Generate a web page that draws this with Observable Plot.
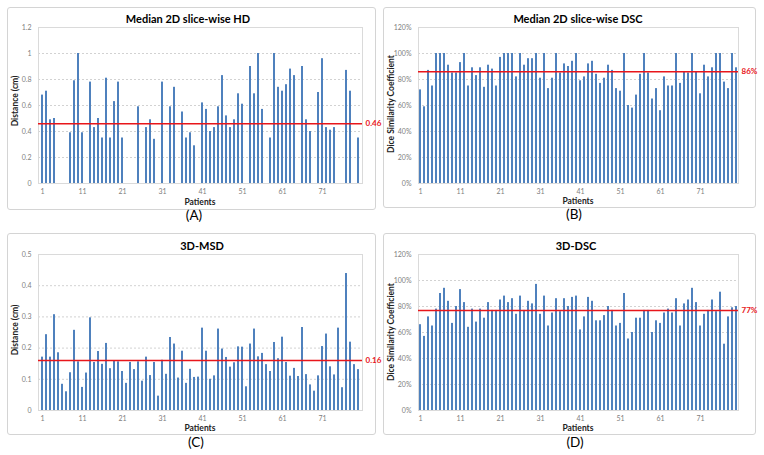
<!DOCTYPE html>
<html>
<head>
<meta charset="utf-8">
<script src="https://cdn.jsdelivr.net/npm/d3@7"></script>
<script src="https://cdn.jsdelivr.net/npm/@observablehq/plot@0.6"></script>
<style>
  html, body { margin: 0; padding: 0; background: #fff; }
  #root { position: relative; width: 764px; height: 455px; overflow: hidden; font-family: Lato, "Open Sans", sans-serif; }
  .box { position: absolute; border: 1px solid #d4d4d4; border-radius: 3px; box-sizing: border-box; background: #fff; }
  .plotwrap { position: absolute; }
  .t { position: absolute; white-space: nowrap; transform: translate(-50%, -50%); color: #000; line-height: 1; }
  .title { font-weight: bold; font-size: 11px; }
  .ylab { font-weight: bold; font-size: 8.5px; transform: translate(-50%, -50%) rotate(-90deg); color: #222; }
  .xlab { font-weight: bold; font-size: 8.5px; color: #222; }
  .tag { font-size: 13.5px; color: #000; }
</style>
</head>
<body>
<div id="root"></div>
<script>
const patients = [1,2,3,4,5,6,7,8,9,10,11,12,13,14,15,16,17,18,19,20,21,22,23,24,25,26,27,28,29,30,31,32,33,34,35,36,37,38,39,40,41,42,43,44,45,46,47,48,49,50,51,52,53,54,55,56,57,58,59,60,61,62,63,64,65,66,67,68,69,70,71,72,73,74,75,76,77,78,79,80];
const xTicks = [1, 11, 21, 31, 41, 51, 61, 71];

// (A) Median 2D slice-wise HD (cm); null = no bar
const hd2d = [0.68,0.71,0.49,0.50,null,null,null,0.39,0.79,1.00,
  0.39,null,0.78,0.43,0.50,0.35,0.81,0.35,0.63,0.78,
  0.35,null,null,null,0.59,null,0.43,0.49,0.34,null,
  0.78,null,0.59,0.74,null,0.55,0.35,0.39,0.29,null,
  0.62,0.57,0.40,0.43,0.59,0.83,0.52,0.43,0.49,0.69,
  0.61,null,0.90,0.69,1.00,0.57,null,0.35,1.00,0.74,
  0.71,0.76,0.88,0.83,null,0.90,0.49,0.40,null,0.70,
  0.96,0.43,0.41,0.43,null,null,0.87,0.71,null,0.35];
// (B) Median 2D slice-wise DSC (%)
const dsc2d = [72,59,87,75,100,100,100,91,85,85,
  93,100,75,89,83,89,74,91,88,75,
  97,100,100,100,82,100,91,96,96,100,
  81,100,73,81,100,85,92,90,94,100,
  79,82,92,94,84,77,81,91,87,73,
  71,100,60,58,68,84,100,85,65,73,
  56,82,75,75,100,77,86,85,100,86,
  69,91,82,89,100,100,78,73,100,89];
// (C) 3D-MSD (cm)
const msd3d = [0.171,0.243,0.171,0.307,0.185,0.084,0.060,0.121,0.257,0.156,
  0.074,0.120,0.297,0.154,0.189,0.148,0.215,0.134,0.158,0.156,
  0.125,0.087,0.154,0.131,0.156,0.094,0.171,0.112,0.154,0.046,
  0.161,0.116,0.234,0.213,0.104,0.190,0.087,0.132,0.106,0.107,
  0.264,0.190,0.100,0.111,0.261,0.197,0.170,0.139,0.153,0.204,
  0.203,0.076,0.213,0.261,0.172,0.183,0.147,0.125,0.218,0.166,
  0.235,0.154,0.110,0.135,0.109,0.266,0.115,0.082,0.062,0.111,
  0.205,0.245,0.140,0.114,0.264,0.073,0.439,0.219,0.147,0.131];
// (D) 3D-DSC (%)
const dsc3d = [66,57,72,65,78,90,94,84,67,80,
  93,83,64,78,68,78,71,83,77,77,
  85,88,83,86,74,88,77,84,82,97,
  74,88,65,75,86,76,86,80,87,88,
  62,72,87,84,69,69,73,80,77,65,
  67,90,55,60,71,71,77,77,60,69,
  67,75,78,75,86,65,82,85,94,83,
  65,74,77,85,76,91,51,72,79,80];

const titles = ["Median 2D slice-wise HD", "Median 2D slice-wise DSC", "3D-MSD", "3D-DSC"];
const yLabels = ["Distance (cm)", "Dice Similarity Coefficient", "Distance (cm)", "Dice Similarity Coefficient"];
const xLabel = "Patients";
const tags = ["(A)", "(B)", "(C)", "(D)"];
const means = [0.46, 86, 0.16, 77];
const meanLabels = ["0.46", "86%", "0.16", "77%"];
const yTicksHD = [0, 0.2, 0.4, 0.6, 0.8, 1, 1.2];
const yTicksPct = [0, 20, 40, 60, 80, 100, 120];
const yTicksMSD = [0, 0.1, 0.2, 0.3, 0.4, 0.5];

const root = document.getElementById("root");
const BLUE = "#4f81bd";
const RED = "#e8161b";

function addDiv(cls, text, x, y) {
  const d = document.createElement("div");
  d.className = "t " + cls;
  d.textContent = text;
  d.style.left = x + "px";
  d.style.top = y + "px";
  root.appendChild(d);
  return d;
}
function addBox(l, t, r, b) {
  const d = document.createElement("div");
  d.className = "box";
  d.style.left = l + "px"; d.style.top = t + "px";
  d.style.width = (r - l) + "px"; d.style.height = (b - t) + "px";
  root.appendChild(d);
}

function panel(values, yMax, yTicks, yFmt, mean, meanLabel, left, top, width, mt, mb, ml, mr) {
  const data = patients.map((p, i) => ({patient: p, value: values[i]})).filter(d => d.value != null);
  const svg = Plot.plot({
    width, height: 215,
    marginTop: mt, marginBottom: mb, marginLeft: ml, marginRight: mr,
    style: {background: "transparent", overflow: "visible", fontFamily: "Lato, 'Open Sans', sans-serif"},
    x: {type: "band", domain: patients, paddingInner: 0.52, paddingOuter: 0.26},
    y: {domain: [0, yMax]},
    marks: [
      Plot.gridY(yTicks, {stroke: "#d2d2d2", strokeOpacity: 1, strokeDasharray: "2,2"}),
      Plot.frame({stroke: "#dadada"}),
      Plot.barY(data, {x: "patient", y: "value", fill: BLUE}),
      Plot.ruleY([mean], {stroke: RED, strokeWidth: 1.5}),
      Plot.text([mean], {y: d => d, frameAnchor: "right", textAnchor: "start", dx: 3, text: () => meanLabel, fill: RED, fontWeight: "bold", fontSize: 8}),
      Plot.axisY(yTicks, {tickSize: 0, tickPadding: 7, tickFormat: yFmt, fontSize: 7, fill: "#808080", label: null}),
      Plot.axisX(xTicks, {tickSize: 0, tickPadding: 6, fontSize: 7, fill: "#808080", label: null})
    ]
  });
  const w = document.createElement("div");
  w.className = "plotwrap";
  w.style.left = left + "px";
  w.style.top = top + "px";
  w.appendChild(svg);
  root.appendChild(w);
}

// chart-area boxes
addBox(7, 7, 376, 210);
addBox(383, 7, 756, 208);
addBox(7, 233, 376, 435);
addBox(383, 233, 756, 435);

const numFmt = d3.format("~g");
const pctFmt = d => d + "%";

panel(hd2d, 1.2, yTicksHD, numFmt, means[0], meanLabels[0], 0, 0, 380, 27, 32, 38, 18);
panel(dsc2d, 120, yTicksPct, pctFmt, means[1], meanLabels[1], 380, 0, 384, 27, 32, 38, 26);
panel(msd3d, 0.5, yTicksMSD, numFmt, means[2], meanLabels[2], 0, 225, 380, 29, 30, 38, 18);
panel(dsc3d, 120, yTicksPct, pctFmt, means[3], meanLabels[3], 380, 225, 384, 29, 30, 38, 26);

// titles
addDiv("title", titles[0], 188, 18);
addDiv("title", titles[1], 578, 18);
addDiv("title", titles[2], 202, 245);
addDiv("title", titles[3], 576, 245);
// y labels
addDiv("ylab", yLabels[0], 15, 101);
addDiv("ylab", yLabels[1], 391, 104);
addDiv("ylab", yLabels[2], 15, 330);
addDiv("ylab", yLabels[3], 391, 332);
// x labels
addDiv("xlab", xLabel, 200, 202);
addDiv("xlab", xLabel, 578, 201);
addDiv("xlab", xLabel, 200, 428);
addDiv("xlab", xLabel, 578, 428);
// tags
addDiv("tag", tags[0], 194, 216);
addDiv("tag", tags[1], 574, 215);
addDiv("tag", tags[2], 196, 443);
addDiv("tag", tags[3], 575, 443);
</script>
</body>
</html>
